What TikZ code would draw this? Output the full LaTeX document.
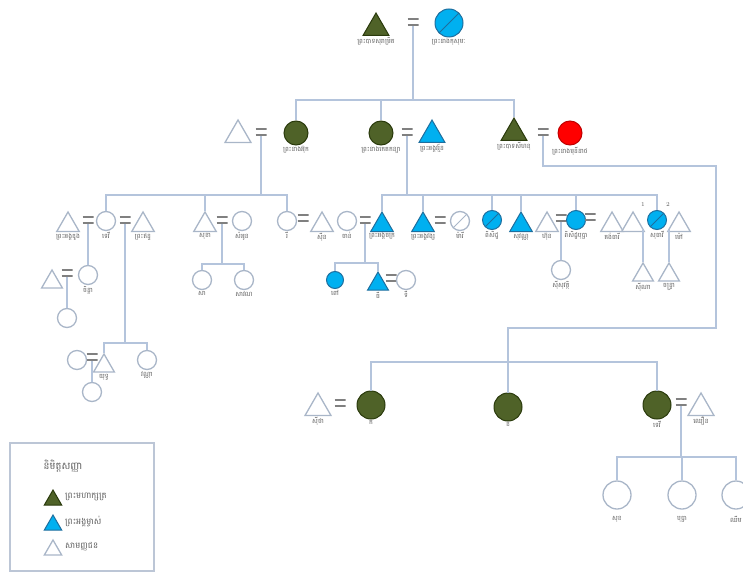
\documentclass[tikz,border=0pt]{standalone}
\usepackage{fontspec}
\newfontfamily\khmer[Script=Khmer]{Battambang}
\usetikzlibrary{shapes.geometric,positioning}

\definecolor{linkblue}{HTML}{B4C4DC}
\definecolor{outgray}{HTML}{A9B6C8}
\definecolor{olivefill}{HTML}{4F6228}
\definecolor{olivedark}{HTML}{2A3A0C}
\definecolor{skyfill}{HTML}{00B0F0}
\definecolor{skydark}{HTML}{1E6E9E}
\definecolor{lblgray}{HTML}{5A5A5A}
\definecolor{eqgray}{HTML}{808080}
\definecolor{legendgray}{HTML}{BCC6D6}

\tikzset{
  link/.style={draw=linkblue, line width=1.6pt},
  tri/.style={regular polygon, regular polygon sides=3, inner sep=0pt, minimum size=#1},
  circ/.style={circle, inner sep=0pt, minimum size=#1},
  plain/.style={draw=outgray, fill=white, line width=1.3pt},
  royal/.style={draw=olivedark, fill=olivefill, line width=1pt},
  prince/.style={draw=skydark, fill=skyfill, line width=1pt},
  queen/.style={draw=red!75!black, fill=red, line width=1pt},
  slash/.style={path picture={\draw[#1, line width=1pt] (path picture bounding box.south west) -- (path picture bounding box.north east);}},
  eq/.style={minimum width=11pt, minimum height=8pt, inner sep=0pt,
    path picture={\draw[eqgray, line width=1.6pt]
      ([yshift=-0.8pt]path picture bounding box.north west) -- ([yshift=-0.8pt]path picture bounding box.north east)
      ([yshift=0.8pt]path picture bounding box.south west) -- ([yshift=0.8pt]path picture bounding box.south east);}},
  lbl/.style={font=\khmer\fontsize{6.5}{7}\selectfont, text=lblgray, inner sep=1pt},
  num/.style={font=\fontsize{6}{6}\selectfont, text=lblgray, inner sep=0pt},
}

\begin{document}
\begin{tikzpicture}[x=1pt, y=-1pt]
  \useasboundingbox (0,0) rectangle (743,572);

  % top couple
  \node[tri=30, royal, label={[lbl]below:ព្រះបាទសុរាម្រិត}] (k0) at (376,28) {};
  \node[eq] (eq0) at (413,22) {};
  \node[circ=28, prince, slash=skydark, label={[lbl]below:ព្រះនាងកុសុមៈ}] (q0) at (449,23) {};
  \coordinate (bar1) at (413,100);

  % second row
  \node[tri=30, plain] (w2) at (238,135) {};
  \node[eq] (eq1) at (261,132) {};
  \node[circ=24, royal, label={[lbl]below:ព្រះនាងអ៊ុក}] (c2) at (296,133) {};
  \node[circ=24, royal, label={[lbl]below:ព្រះនាងកេតកន្យា}] (c3) at (381,133) {};
  \node[eq] (eq3) at (407,132) {};
  \node[tri=30, prince, label={[lbl]below:ព្រះអង្គវរ្ម័ន}] (b3) at (432,135) {};
  \node[tri=30, royal, label={[lbl]below:ព្រះបាទសីហនុ}] (k2) at (514,133) {};
  \node[eq] (eq5) at (543,132) {};
  \node[circ=24, queen, label={[lbl]below:ព្រះនាងមុនីនាថ}] (r2) at (570,133) {};
  \coordinate (bar2) at (261,195);
  \coordinate (bar3) at (407,195);

  % third row, left
  \node[tri=26, plain, label={[lbl]below:ព្រះអង្គឌួង}] (t31) at (68,225) {};
  \node[eq] (eq31) at (88,220) {};
  \node[circ=19, plain, label={[lbl]below:ទេវី}] (c31) at (106,221) {};
  \node[eq] (eq32) at (125,220) {};
  \node[tri=26, plain, label={[lbl]below:ព្រះឥន្ទ}] (t32) at (143,225) {};
  \node[tri=26, plain, label={[lbl]below:សុខា}] (t33) at (205,225) {};
  \node[eq] (eq33) at (222,220) {};
  \node[circ=19, plain, label={[lbl]below:សំអូន}] (c33) at (242,221) {};
  \node[circ=19, plain, label={[lbl]below:រី}] (c34) at (287,221) {};
  \node[eq] (eq34) at (303,218) {};
  \node[tri=26, plain, label={[lbl]below:ស៊ីន}] (t35) at (322,225) {};
  \node[circ=19, plain, label={[lbl]below:ចាន់}] (c35) at (347,221) {};
  \node[eq] (eq35) at (365,220) {};

  % third row, right
  \node[tri=26, prince, label={[lbl]below:ព្រះអង្គចក្រ}] (b41) at (382,225) {};
  \node[tri=26, prince, label={[lbl]below:ព្រះអង្គវង្ស}] (b42) at (423,225) {};
  \node[eq] (eq42) at (440,220) {};
  \node[circ=19, plain, slash=outgray, label={[lbl]below:ម៉ារី}] (cs43) at (460,221) {};
  \node[circ=19, prince, slash=skydark, label={[lbl]below:ពិសិដ្ឋ}] (bs44) at (492,220) {};
  \node[tri=26, prince, label={[lbl]below:សុវណ្ណ}] (b45) at (521,225) {};
  \node[tri=26, plain, label={[lbl]below:ហ៊ុន}] (t46) at (547,225) {};
  \node[eq] (eq46) at (561,218) {};
  \node[circ=19, prince, label={[lbl]below:ពិសិដ្ឋបុប្ផា}] (b47) at (576,220) {};
  \node[eq] (eq47) at (590,217) {};
  \node[tri=26, plain, label={[lbl]below:គង់ធារី}] (t48) at (612,225) {};
  \node[tri=26, plain] (t49) at (633,225) {};
  \node[circ=19, prince, slash=skydark, label={[lbl]below:សុធាវី}] (bs50) at (657,220) {};
  \node[tri=26, plain, label={[lbl]below:ម៉ៅ}] (t51) at (679,225) {};
  \node[num] (n1) at (643,205) {1};
  \node[num] (n2) at (668,205) {2};
  \coordinate (m1) at (643,230);
  \coordinate (m2) at (669,230);

  % fourth row
  \node[tri=24, plain] (t61) at (52,282) {};
  \node[eq] (eq61) at (67,273) {};
  \node[circ=19, plain, label={[lbl]below:ចិន្តា}] (c61) at (88,275) {};
  \node[circ=19, plain] (c62) at (67,318) {};
  \node[circ=19, plain, label={[lbl]below:សា}] (c63) at (202,280) {};
  \node[circ=19, plain, label={[lbl]below:សាវណ}] (c64) at (244,280) {};
  \node[circ=17, prince, label={[lbl]below:ពៅ}] (bc65) at (335,280) {};
  \node[tri=24, prince, label={[lbl]below:ធី}] (bt66) at (378,284) {};
  \node[eq] (eq66) at (391,278) {};
  \node[circ=19, plain, label={[lbl]below:ទី}] (c67) at (406,280) {};
  \node[circ=19, plain, label={[lbl]below:ស៊ីសុវត្ថិ}] (c68) at (561,270) {};
  \node[tri=24, plain, label={[lbl]below:ស៊ីណា}] (t69) at (643,275) {};
  \node[tri=24, plain, label={[lbl]below:ចន្ទ្រា}] (t70) at (669,275) {};
  \coordinate (bar4) at (222,264);
  \coordinate (bar5) at (365,263);

  % fifth row
  \node[circ=19, plain] (c73) at (77,360) {};
  \node[eq] (eq73) at (92,357) {};
  \node[tri=24, plain, label={[lbl]below:យុទ្ធ}] (t71) at (104,366) {};
  \node[circ=19, plain, label={[lbl]below:វណ្ណា}] (c72) at (147,360) {};
  \node[circ=19, plain] (c74) at (92,392) {};
  \coordinate (bar6) at (125,343);

  % bottom family
  \node[tri=30, plain, label={[lbl]below:ស៊ីថា}] (t80) at (318,408) {};
  \node[eq] (eq80) at (340,403) {};
  \node[circ=28, royal, label={[lbl]below:ក}] (g81) at (371,405) {};
  \node[circ=28, royal, label={[lbl]below:ខ}] (g82) at (508,407) {};
  \node[circ=28, royal, label={[lbl]below:ទេវី}] (g83) at (657,405) {};
  \node[eq] (eq83) at (681,402) {};
  \node[tri=30, plain, label={[lbl]below:ឈឿន}] (t84) at (701,408) {};
  \node[circ=28, plain, label={[lbl,yshift=-5pt]below:សុខ}] (c85) at (617,495) {};
  \node[circ=28, plain, label={[lbl,yshift=-5pt]below:បុប្ផា}] (c86) at (682,495) {};
  \node[circ=28, plain, label={[lbl,yshift=-5pt]below:ឈីម}] (c87) at (736,495) {};
  \coordinate (turn1) at (716,166);
  \coordinate (turn2) at (508,328);
  \coordinate (bar7) at (508,362);
  \coordinate (bar8) at (681,457);

  % connectors
  \draw[link] (eq0.south) -- (bar1);
  \draw[link] (c2.north) |- (bar1) -| (k2.north);
  \draw[link] (c3.north) -- (c3 |- bar1);
  \draw[link] (eq1.south) -- (bar2);
  \draw[link] (c31.north) |- (bar2) -| (c34.north);
  \draw[link] (t33.north) -- (t33 |- bar2);
  \draw[link] (eq3.south) -- (bar3);
  \draw[link] (b41.north) |- (bar3) -| (bs50.north);
  \draw[link] (b42.north) -- (b42 |- bar3);
  \draw[link] (bs44.north) -- (bs44 |- bar3);
  \draw[link] (b45.north) -- (b45 |- bar3);
  \draw[link] (b47.north) -- (b47 |- bar3);
  \draw[link] (eq31.south) -- (c61.north);
  \draw[link] (eq61.south) -- (c62.north);
  \draw[link] (eq32.south) -- (bar6);
  \draw[link] (t71.north) |- (bar6) -| (c72.north);
  \draw[link] (eq73.south) -- (c74.north);
  \draw[link] (eq33.south) -- (bar4);
  \draw[link] (c63.north) |- (bar4) -| (c64.north);
  \draw[link] (eq35.south) -- (bar5);
  \draw[link] (bc65.north) |- (bar5) -| (bt66.north);
  \draw[link] (eq46.south) -- (c68.north);
  \draw[link] (m1) -- (t69.north);
  \draw[link] (m2) -- (t70.north);
  \draw[link] (eq5.south) |- (turn1) |- (turn2) -- (bar7);
  \draw[link] (g81.north) |- (bar7) -| (g83.north);
  \draw[link] (g82.north) -- (bar7);
  \draw[link] (eq83.south) -- (bar8);
  \draw[link] (c85.north) |- (bar8) -| (c87.north);
  \draw[link] (c86.north) -- (c86 |- bar8);

  % legend
  \node[draw=legendgray, line width=2pt, minimum width=144pt, minimum height=128pt] (legend) at (82,507) {};
  \node[lbl, font=\khmer\fontsize{10}{11}\selectfont] (ltitle) at (63,466) {និមិត្តសញ្ញា};
  \node[tri=20, royal] (lk) at (53,500) {};
  \node[lbl, anchor=west, font=\khmer\fontsize{8.5}{9}\selectfont] (lkt) at (64,497) {ព្រះមហាក្សត្រ};
  \node[tri=20, prince] (lp) at (53,525) {};
  \node[lbl, anchor=west, font=\khmer\fontsize{8.5}{9}\selectfont] (lpt) at (64,522) {ព្រះអង្គម្ចាស់};
  \node[tri=20, plain] (lc) at (53,550) {};
  \node[lbl, anchor=west, font=\khmer\fontsize{8.5}{9}\selectfont] (lct) at (64,547) {សាមញ្ញជន};
\end{tikzpicture}
\end{document}
